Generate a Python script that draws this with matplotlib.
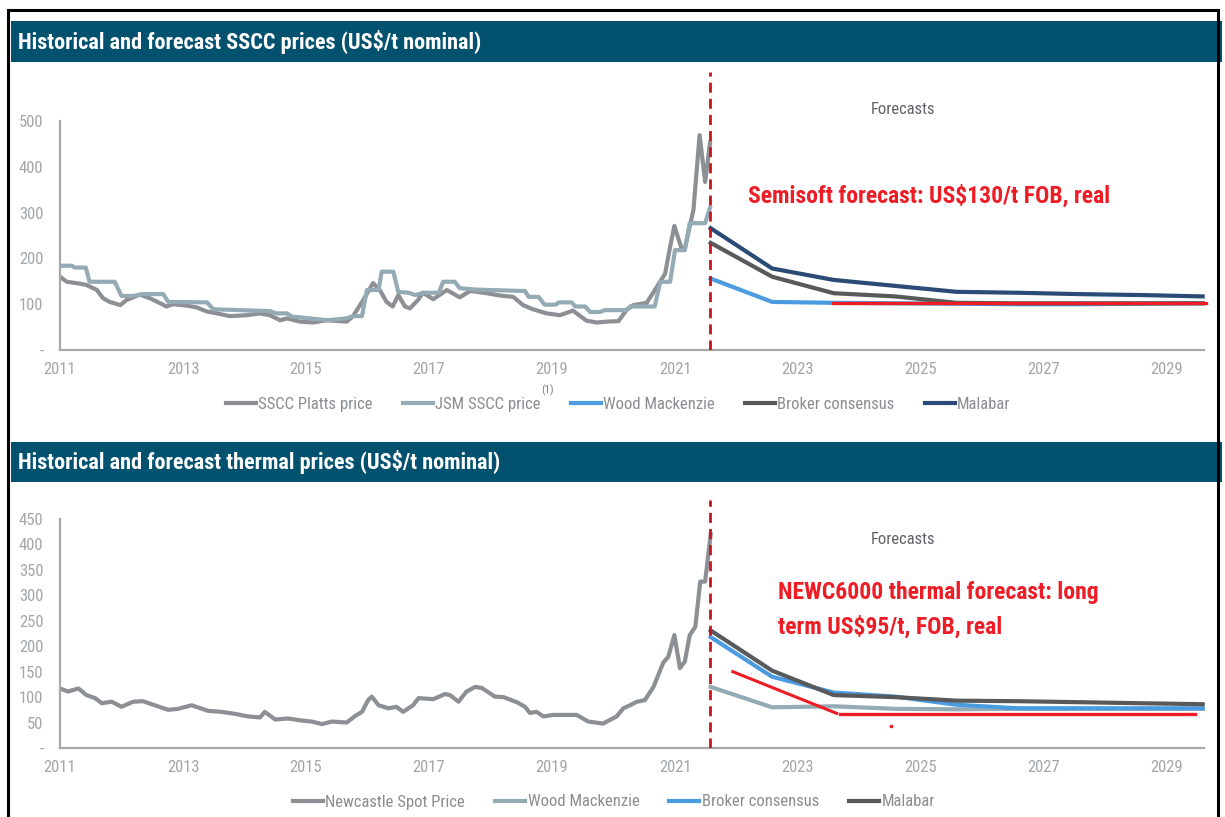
import matplotlib
matplotlib.use("Agg")
import matplotlib.pyplot as plt
from matplotlib import font_manager
from matplotlib.lines import Line2D
from matplotlib.patches import Rectangle

# ---------------------------------------------------------------- fonts
def pick(families):
    names = {f.name for f in font_manager.fontManager.ttflist}
    for fam in families:
        if fam in names:
            return fam
    return "DejaVu Sans"

NARROW = pick(["Liberation Sans Narrow", "Arial Narrow", "Roboto Condensed",
               "DejaVu Sans Condensed", "Liberation Sans"])
plt.rcParams["font.family"] = [NARROW, "DejaVu Sans"]

# ---------------------------------------------------------------- data
xtick_years = [2011, 2013, 2015, 2017, 2019, 2021, 2023, 2025, 2027, 2029]
forecast_start = 2021.57
forecast_years = [2021.58, 2022.58, 2023.58, 2024.58, 2025.58,
                  2026.58, 2027.58, 2028.58, 2029.58]

# SSCC (semi-soft coking coal) history
sscc_platts_t = [2011.00, 2011.11, 2011.27, 2011.43, 2011.60, 2011.70, 2011.81, 2011.98,
                 2012.08, 2012.30, 2012.46, 2012.63, 2012.73, 2012.84, 2013.06, 2013.22,
                 2013.39, 2013.55, 2013.76, 2014.04, 2014.25, 2014.41, 2014.58, 2014.69,
                 2014.90, 2015.11, 2015.34, 2015.66, 2015.76, 2015.93, 2016.09, 2016.20,
                 2016.31, 2016.41, 2016.50, 2016.61, 2016.69, 2016.82, 2016.90, 2017.07,
                 2017.29, 2017.50, 2017.67, 2017.94, 2018.15, 2018.37, 2018.53, 2018.69,
                 2018.91, 2019.13, 2019.34, 2019.56, 2019.73, 2019.89, 2020.08, 2020.21,
                 2020.32, 2020.54, 2020.64, 2020.84, 2020.92, 2020.99, 2021.11, 2021.16,
                 2021.30, 2021.40, 2021.49, 2021.57]
sscc_platts_v = [160, 149, 146, 142, 131, 113, 105, 98,
                 109, 121, 113, 102, 95, 100, 97, 93,
                 84, 80, 74, 76, 80, 76, 65, 69,
                 62, 60, 65, 62, 73, 109, 146, 131,
                 105, 95, 120, 95, 91, 109, 125, 111,
                 131, 115, 129, 124, 119, 116, 98, 89,
                 80, 76, 86, 64, 60, 62, 63, 87,
                 98, 103, 124, 167, 225, 271, 220, 222,
                 306, 469, 367, 453]

jsm_sscc_t = [2011.00, 2011.19, 2011.24, 2011.42, 2011.48, 2011.89, 2012.00, 2012.19,
              2012.35, 2012.68, 2012.76, 2013.39, 2013.49, 2013.93, 2014.41, 2014.52,
              2014.69, 2014.77, 2015.07, 2015.34, 2015.66, 2015.76, 2015.91, 2015.99,
              2016.18, 2016.23, 2016.42, 2016.50, 2016.67, 2016.78, 2016.91, 2017.16,
              2017.23, 2017.42, 2017.50, 2017.75, 2018.50, 2018.56, 2018.62, 2018.78,
              2018.88, 2019.06, 2019.11, 2019.32, 2019.38, 2019.54, 2019.62, 2019.78,
              2019.86, 2020.21, 2020.27, 2020.67, 2020.76, 2020.92, 2021.00, 2021.16,
              2021.24, 2021.49, 2021.57]
jsm_sscc_v = [184, 184, 180, 180, 149, 149, 118, 118,
              122, 122, 105, 104, 89, 87, 85, 80,
              80, 73, 69, 65, 69, 74, 74, 131,
              131, 171, 171, 127, 125, 120, 125, 125,
              149, 149, 135, 132, 129, 129, 116, 116,
              99, 99, 104, 104, 95, 95, 83, 83,
              87, 87, 95, 95, 149, 149, 218, 218,
              277, 277, 311]

sscc_woodmac = [156, 105, 103, 102, 101, 100, 100, 101, 102]
sscc_broker = [234, 160, 124, 117, 103, 102, 102, 102, 102]
sscc_malabar = [266, 178, 153, 140, 127, 125, 122, 120, 117]
sscc_guide_t = [2023.57, 2029.64]
sscc_guide_v = [103, 103]

# Thermal (Newcastle) history
newc_t = [2011.00, 2011.13, 2011.30, 2011.43, 2011.57, 2011.68, 2011.84, 2012.00,
          2012.19, 2012.35, 2012.54, 2012.76, 2012.92, 2013.14, 2013.41, 2013.63,
          2013.85, 2014.06, 2014.25, 2014.33, 2014.50, 2014.71, 2014.93, 2015.09,
          2015.26, 2015.42, 2015.66, 2015.80, 2015.91, 2016.01, 2016.07, 2016.18,
          2016.34, 2016.47, 2016.58, 2016.74, 2016.83, 2017.07, 2017.26, 2017.34,
          2017.48, 2017.61, 2017.75, 2017.86, 2018.07, 2018.21, 2018.43, 2018.56,
          2018.64, 2018.75, 2018.86, 2019.02, 2019.40, 2019.59, 2019.83, 2020.05,
          2020.16, 2020.27, 2020.38, 2020.51, 2020.65, 2020.81, 2020.89, 2020.99,
          2021.08, 2021.16, 2021.24, 2021.33, 2021.41, 2021.49, 2021.58]
newc_v = [117, 111, 117, 104, 98, 88, 91, 81,
          91, 92, 84, 75, 77, 84, 73, 71,
          67, 62, 60, 71, 56, 58, 54, 52,
          47, 52, 50, 63, 71, 94, 101, 84,
          78, 81, 71, 84, 98, 96, 106, 104,
          91, 111, 120, 118, 101, 100, 90, 81,
          69, 71, 62, 65, 65, 52, 48, 62,
          78, 84, 91, 94, 120, 168, 179, 222,
          157, 170, 222, 238, 327, 327, 420]

thermal_woodmac = [120, 80, 82, 77, 76, 77, 77, 77, 77]
thermal_broker = [218, 140, 109, 101, 85, 78, 78, 78, 78]
thermal_malabar = [231, 152, 104, 100, 93, 92, 90, 88, 86]
thermal_guide_slope_t = [2021.94, 2023.63]
thermal_guide_slope_v = [150, 68]
thermal_guide_flat_t = [2023.68, 2029.46]
thermal_guide_flat_v = [66, 66]
thermal_guide_tick_t = [2024.52]
thermal_guide_tick_v = [44]

sscc_yticks = [0, 100, 200, 300, 400, 500]
sscc_ylabels = ["-", "100", "200", "300", "400", "500"]
thermal_yticks = [0, 50, 100, 150, 200, 250, 300, 350, 400, 450]
thermal_ylabels = ["-", "50", "100", "150", "200", "250", "300", "350", "400", "450"]

# ---------------------------------------------------------------- colours
C_PLATTS = "#8c8f93"
C_JSM = "#94aab5"
C_BLUE = "#4a9be0"
C_DARK = "#58595b"
C_NAVY = "#2a4b76"
C_RED = "#ee1c25"
C_DASH = "#c8141c"
C_HEADER = "#02516f"
C_TICK = "#a3a6aa"
C_LEGEND = "#8a8d91"

# ---------------------------------------------------------------- layout
W, H = 1225, 817
fig = plt.figure(figsize=(W / 100, H / 100), dpi=100)
fig.patch.set_facecolor("white")


def fx(px):
    return px / W


def fy(py):
    return 1 - py / H


X0_PX, YEAR_PX, XMAX = 60, 61.5, 2029.75


def add_axes(top_px, bottom_px):
    right = X0_PX + (XMAX - 2011) * YEAR_PX
    return fig.add_axes([fx(X0_PX), fy(bottom_px), (right - X0_PX) / W,
                         (bottom_px - top_px) / H])


def style(ax, ymax_spine, yticks, ylabels):
    ax.set_facecolor("none")
    for s in ("top", "right"):
        ax.spines[s].set_visible(False)
    for s in ("left", "bottom"):
        ax.spines[s].set_color("#a8a8a8")
        ax.spines[s].set_linewidth(1.6)
    ax.spines["left"].set_bounds(0, ymax_spine)
    ax.spines["bottom"].set_bounds(2011, 2029.6)
    ax.set_xlim(2011, XMAX)
    ax.set_yticks(yticks)
    ax.set_yticklabels(ylabels)
    ax.set_xticks(xtick_years)
    ax.set_xticklabels([str(y) for y in xtick_years])
    ax.tick_params(length=0, labelsize=12, labelcolor=C_TICK)
    ax.tick_params(axis="y", pad=12)
    ax.tick_params(axis="x", pad=9)


def header(top_px, bottom_px, title):
    fig.add_artist(Rectangle((fx(11), fy(bottom_px)), fx(1222) - fx(11),
                             (bottom_px - top_px) / H, transform=fig.transFigure,
                             facecolor=C_HEADER, edgecolor="none", zorder=0))
    fig.text(fx(18), fy((top_px + bottom_px) / 2), title, color="white",
             fontsize=16, fontweight="bold", ha="left", va="center")


# outer frame
for xs, ys in (([8, 8], [10, H + 5]), ([8, 1218], [10, 10]), ([1218, 1218], [10, H + 5])):
    fig.add_artist(Line2D([fx(v) for v in xs], [fy(v) for v in ys],
                          transform=fig.transFigure, color="black", linewidth=2.2))

LW = 3.0
RED_FS = 17
legend_kw = dict(loc="center", frameon=False, fontsize=12,
                 handlelength=1.8, handletextpad=0.15, columnspacing=1.8,
                 labelcolor=C_LEGEND, bbox_transform=fig.transFigure)

# ================================================================ SSCC panel
header(21, 62, "Historical and forecast SSCC prices (US$/t nominal)")
ax1 = add_axes(70.2, 350)
ax1.set_ylim(0, 611)
style(ax1, 500, sscc_yticks, sscc_ylabels)

h1 = []
h1 += ax1.plot(sscc_platts_t, sscc_platts_v, color=C_PLATTS, lw=LW, label="SSCC Platts price")
h1 += ax1.plot(jsm_sscc_t, jsm_sscc_v, color=C_JSM, lw=LW, label="JSM SSCC price")
h1 += ax1.plot(forecast_years, sscc_woodmac, color=C_BLUE, lw=LW, label="Wood Mackenzie")
h1 += ax1.plot(forecast_years, sscc_broker, color=C_DARK, lw=LW, label="Broker consensus")
h1 += ax1.plot(forecast_years, sscc_malabar, color=C_NAVY, lw=LW, label="Malabar")
ax1.plot(sscc_guide_t, sscc_guide_v, color=C_RED, lw=2.4, zorder=6)
ax1.plot([forecast_start, forecast_start], [0, 607], color=C_DASH, lw=2,
         dashes=(3.6, 2.2), zorder=7)

ax1.legend(handles=h1, ncol=5, bbox_to_anchor=(fx(618), fy(404)), **legend_kw)
fig.text(fx(548), fy(390), "(1)", fontsize=8, color="#7a7d80", ha="center", va="center")
fig.text(fx(903), fy(110), "Forecasts", fontsize=12, color="#5f6266", ha="center", va="center")
fig.text(fx(748), fy(196), "Semisoft forecast: US$130/t FOB, real", color=C_RED,
         fontsize=RED_FS, fontweight="bold", ha="left", va="center")

# ================================================================ thermal panel
header(442, 482, "Historical and forecast thermal prices (US$/t nominal)")
ax2 = add_axes(493.6, 748)
ax2.set_ylim(0, 500)
style(ax2, 450, thermal_yticks, thermal_ylabels)

h2 = []
h2 += ax2.plot(newc_t, newc_v, color=C_PLATTS, lw=LW, label="Newcastle Spot Price")
h2 += ax2.plot(forecast_years, thermal_woodmac, color=C_JSM, lw=LW, label="Wood Mackenzie")
h2 += ax2.plot(forecast_years, thermal_broker, color=C_BLUE, lw=LW, label="Broker consensus")
h2 += ax2.plot(forecast_years, thermal_malabar, color=C_DARK, lw=LW, label="Malabar")
ax2.plot(thermal_guide_slope_t, thermal_guide_slope_v, color=C_RED, lw=2.2, zorder=6)
ax2.plot(thermal_guide_flat_t, thermal_guide_flat_v, color=C_RED, lw=2.4, zorder=6)
ax2.plot(thermal_guide_tick_t, thermal_guide_tick_v, ls="none", marker="s",
         markersize=1.8, color=C_RED, zorder=6)
ax2.plot([forecast_start, forecast_start], [0, 487], color=C_DASH, lw=2,
         dashes=(3.6, 2.2), zorder=7)

ax2.legend(handles=h2, ncol=4, bbox_to_anchor=(fx(614), fy(802)), **legend_kw)
fig.text(fx(903), fy(540), "Forecasts", fontsize=12, color="#5f6266", ha="center", va="center")
fig.text(fx(778), fy(593), "NEWC6000 thermal forecast: long", color=C_RED,
         fontsize=RED_FS, fontweight="bold", ha="left", va="center")
fig.text(fx(778), fy(627), "term US$95/t, FOB, real", color=C_RED,
         fontsize=RED_FS, fontweight="bold", ha="left", va="center")

fig.savefig("out.png", dpi=100, facecolor="white")
